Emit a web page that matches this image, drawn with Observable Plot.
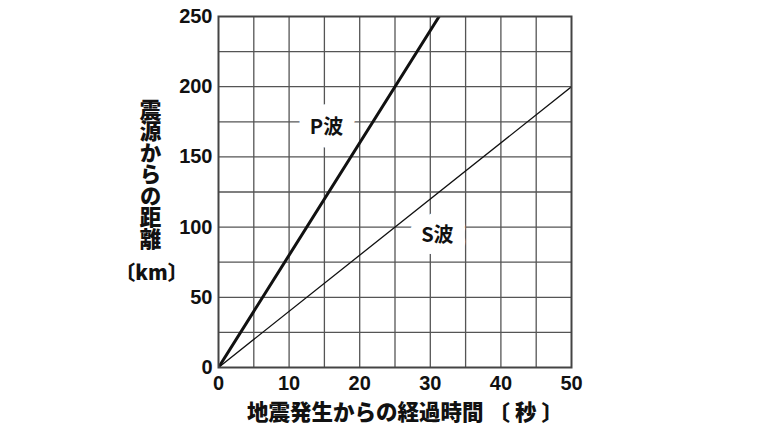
<!DOCTYPE html>
<html><head><meta charset="utf-8">
<script src="https://cdn.jsdelivr.net/npm/d3@7"></script>
<script src="https://cdn.jsdelivr.net/npm/@observablehq/plot@0.6"></script>
<style>body{margin:0;background:#fff;} svg{display:block;}</style>
</head><body><div id="chart"></div>
<script>
// data
const pTime = [0, 31.25];
const pDist = [0, 250];
const sTime = [0, 50];
const sDist = [0, 200];
const xTicks = [0, 10, 20, 30, 40, 50];
const yTicks = [0, 50, 100, 150, 200, 250];
const xGrid = [5, 10, 15, 20, 25, 30, 35, 40, 45];
const yGrid = [25, 50, 75, 100, 125, 150, 175, 200, 225];
const waveLabels = ["P波", "S波"];
const labelX = [15.3, 31];
const labelY = [171, 94];
const xTitle = "地震発生からの経過時間 〔 秒 〕";
const yTitle = "震源からの距離";
const yUnit = "〔km〕";

const P = pTime.map((t, i) => ({t, d: pDist[i]}));
const S = sTime.map((t, i) => ({t, d: sDist[i]}));
const labels = waveLabels.map((l, i) => ({l, x: labelX[i], y: labelY[i]}));
const jp = "'Noto Sans CJK JP', sans-serif";

const chart = Plot.plot({
  width: 768, height: 432,
  marginLeft: 218, marginRight: 197, marginTop: 16, marginBottom: 65,
  x: {domain: [0, 50]},
  y: {domain: [0, 250]},
  style: {fontFamily: "'Liberation Sans', Arial, sans-serif", fontSize: "20px", fontWeight: "bold", color: "#111"},
  marks: [
    Plot.ruleX(xGrid, {stroke: "#555", strokeWidth: 1.3}),
    Plot.ruleY(yGrid, {stroke: "#555", strokeWidth: 1.3}),
    Plot.line(S, {x: "t", y: "d", stroke: "#111", strokeWidth: 1.3, clip: true}),
    Plot.line(P, {x: "t", y: "d", stroke: "#111", strokeWidth: 3, clip: true}),
    Plot.text(labels, {x: "x", y: "y", text: "l", fill: "#111", stroke: "white", strokeWidth: 24, fontSize: 20, fontWeight: "bold", fontFamily: jp}),
    Plot.frame({stroke: "#444", strokeWidth: 2}),
    Plot.axisX({ticks: xTicks, tickSize: 0, tickPadding: 8, label: null}),
    Plot.axisY({ticks: yTicks, tickSize: 0, tickPadding: 6, label: null}),
    Plot.text([xTitle], {text: d => d, frameAnchor: "bottom", textAnchor: "middle", lineAnchor: "middle", dx: 10, dy: 46, fontSize: 21.5, fontWeight: 900, fontFamily: jp, fill: "#111"}),
    Plot.text([yTitle], {text: d => d, frameAnchor: "left", textAnchor: "middle", dx: -68, dy: -25, fontSize: 21.5, fontWeight: 900, fontFamily: jp, fill: "#111"}),
    Plot.text([yUnit], {text: d => d, frameAnchor: "left", textAnchor: "middle", lineAnchor: "middle", dx: -67, dy: 82, fontSize: 20, fontWeight: 900, fontFamily: jp, fill: "#111"})
  ]
});
d3.select(chart).selectAll("text")
  .filter(function () { return this.textContent === yTitle; })
  .attr("dy", null)
  .style("writing-mode", "vertical-rl");
document.getElementById("chart").append(chart);
</script>
</body></html>
